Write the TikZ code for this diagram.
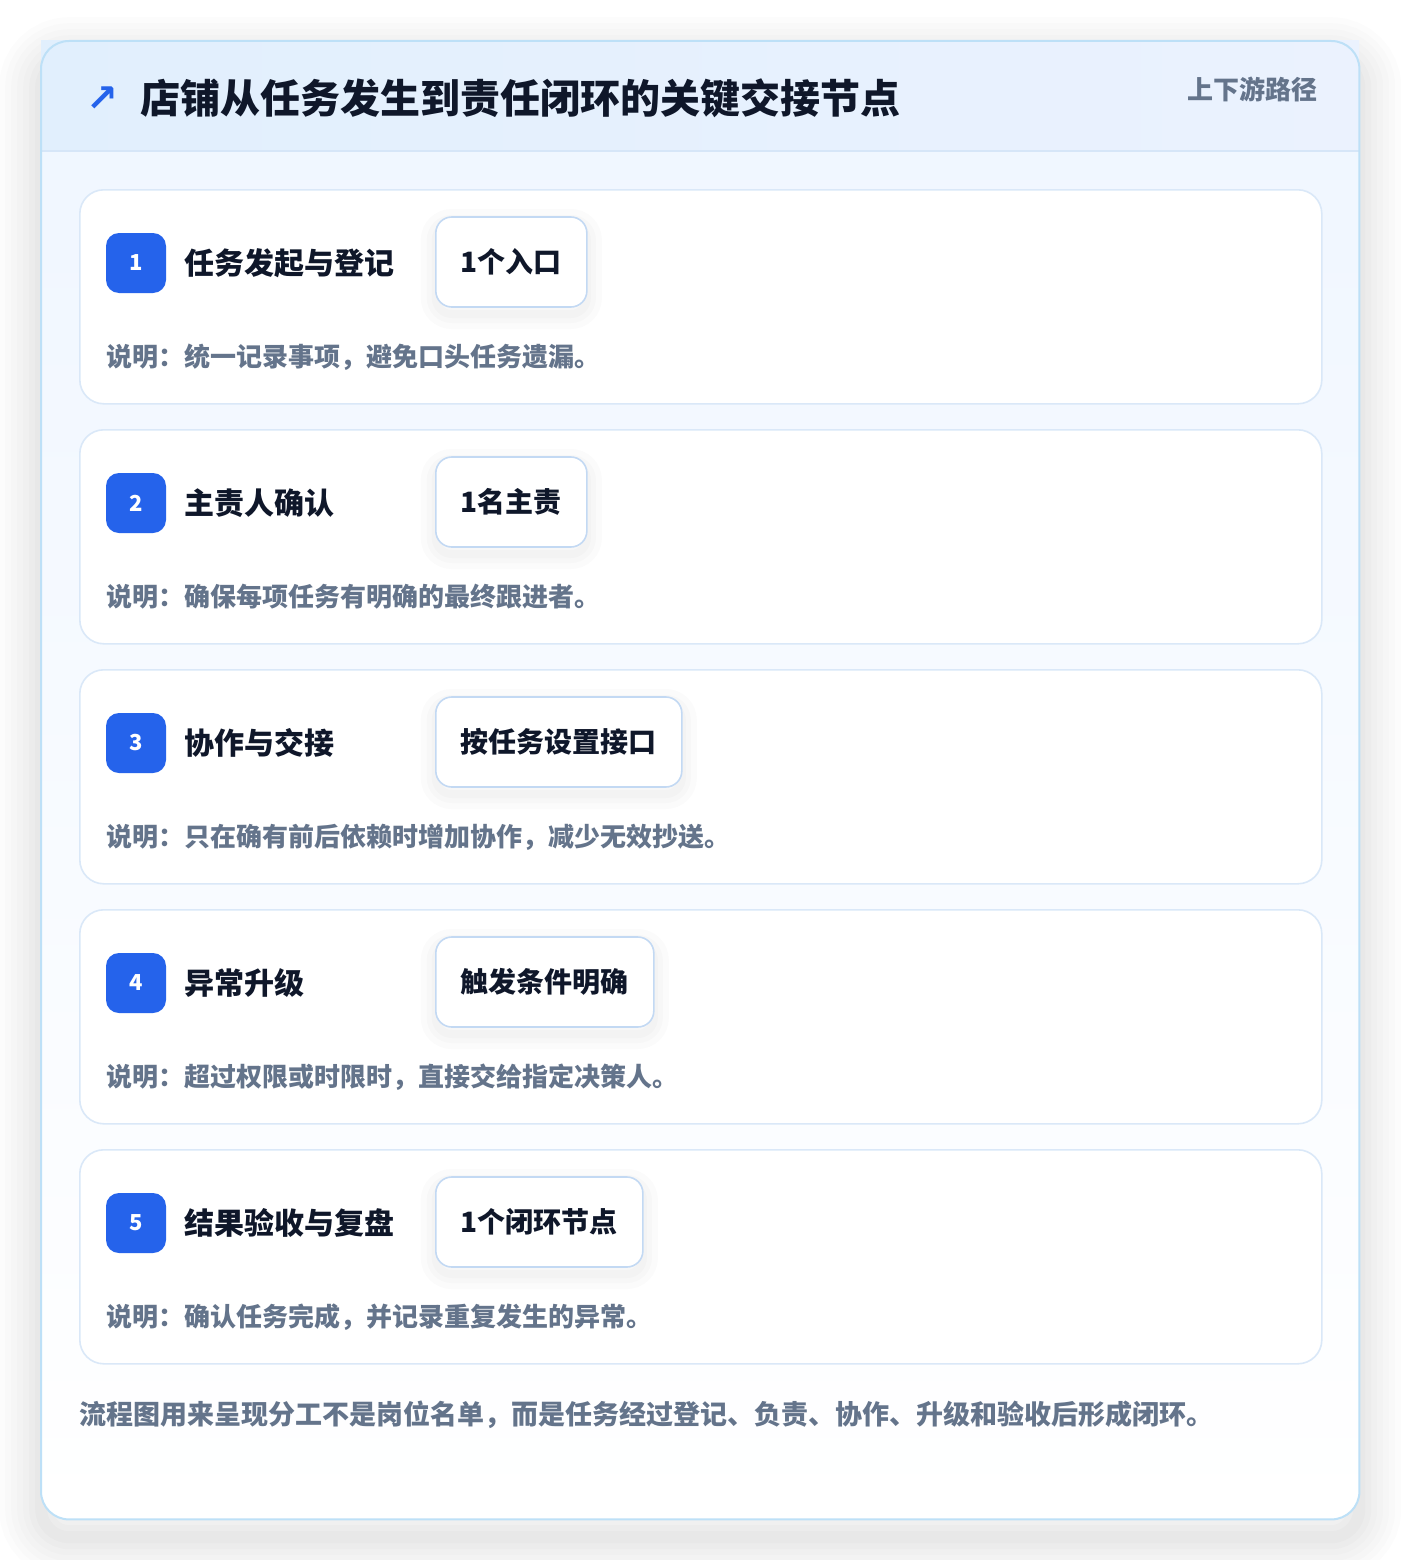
\documentclass[tikz,border=0pt]{standalone}
\usepackage{fontspec}
\setmainfont{Noto Sans CJK SC}
\newfontfamily\symfont{DejaVu Sans}
\usetikzlibrary{positioning}

\definecolor{paneledge}{HTML}{BDE0F7}
\definecolor{paneltop}{HTML}{EFF6FF}
\definecolor{headleft}{HTML}{E1EFFD}
\definecolor{headright}{HTML}{EBF2FE}
\definecolor{headrule}{HTML}{D6E6F8}
\definecolor{cardedge}{HTML}{DAE8F8}
\definecolor{tagedge}{HTML}{C3D9F3}
\definecolor{accent}{HTML}{2563EB}
\definecolor{ink}{HTML}{0F172A}
\definecolor{muted}{HTML}{64748B}

\tikzset{
  haze/.style 2 args={preaction={draw=black, draw opacity=#2, line width=#1,
    transform canvas={yshift=-18pt}}},
  panel/.style={anchor=north west, minimum width=1318pt, minimum height=1478pt,
    rounded corners=28pt, top color=paneltop, bottom color=white, inner sep=0pt,
    haze={84pt}{0.01}, haze={72pt}{0.01}, haze={60pt}{0.011}, haze={48pt}{0.012},
    haze={36pt}{0.013}, haze={24pt}{0.014}, haze={12pt}{0.015}},
  stepcard/.style={anchor=north west, draw=cardedge, line width=1.6pt, fill=white,
    rounded corners=24pt, minimum width=1242pt, minimum height=214pt, inner sep=0pt},
  badge/.style={fill=accent, text=white, rounded corners=13pt, minimum size=60pt,
    inner sep=0pt, font=\bfseries\fontsize{22}{26}\selectfont},
  steptitle/.style={text=ink, inner sep=0pt, font=\bfseries\fontsize{30}{36}\selectfont},
  tagbox/.style={anchor=west, draw=tagedge, line width=1.6pt, fill=white,
    rounded corners=16pt, minimum height=90pt, inner xsep=25pt, inner ysep=0pt,
    text=ink, font=\bfseries\fontsize{28}{34}\selectfont,
    preaction={draw=black, draw opacity=0.015, line width=30pt, transform canvas={yshift=-7pt}},
    preaction={draw=black, draw opacity=0.015, line width=18pt, transform canvas={yshift=-7pt}},
    preaction={draw=black, draw opacity=0.015, line width=8pt, transform canvas={yshift=-7pt}}},
  note/.style={anchor=west, inner sep=0pt, text=muted,
    font=\bfseries\fontsize{26}{32}\selectfont}
}

\begin{document}
\begin{tikzpicture}[x=1pt,y=-1pt]
\useasboundingbox (0,0) rectangle (1400,1560);
\fill[white] (0,0) rectangle (1400,1560);

% outer panel and header band
\node[panel] (panel) at (41,41) {};
\coordinate (headend) at (1359,151);
\fill[left color=headleft, right color=headright] (panel.north west) rectangle (headend);
\draw[headrule, line width=1.6pt] (panel.west |- headend) -- (headend);
\draw[paneledge, line width=2pt, rounded corners=28pt] (panel.north west) rectangle (panel.south east);

\node[text=accent, inner sep=0pt, font=\symfont\bfseries\fontsize{38}{40}\selectfont] (icon) at (102,99) {↗};
\node[anchor=west, inner sep=0pt, text=ink, font=\bfseries\fontsize{40}{46}\selectfont] (heading) at (140,98) {店铺从任务发生到责任闭环的关键交接节点};
\node[anchor=east, inner sep=0pt, text=muted, font=\bfseries\fontsize{26}{30}\selectfont] (route) at (1318,89) {上下游路径};

% step 1
\node[stepcard] (card1) at (79,189) {};
\node[badge] (num1) at (136,263) {1};
\node[steptitle, anchor=west, right=18pt of num1] (title1) {任务发起与登记};
\node[tagbox] (tag1) at (435,262) {1个入口};
\node[note] (note1) at (106,357) {说明：统一记录事项，避免口头任务遗漏。};

% step 2
\node[stepcard] (card2) at (79,429) {};
\node[badge] (num2) at (136,503) {2};
\node[steptitle, anchor=west, right=18pt of num2] (title2) {主责人确认};
\node[tagbox] (tag2) at (435,502) {1名主责};
\node[note] (note2) at (106,597) {说明：确保每项任务有明确的最终跟进者。};

% step 3
\node[stepcard] (card3) at (79,669) {};
\node[badge] (num3) at (136,743) {3};
\node[steptitle, anchor=west, right=18pt of num3] (title3) {协作与交接};
\node[tagbox] (tag3) at (435,742) {按任务设置接口};
\node[note] (note3) at (106,837) {说明：只在确有前后依赖时增加协作，减少无效抄送。};

% step 4
\node[stepcard] (card4) at (79,909) {};
\node[badge] (num4) at (136,983) {4};
\node[steptitle, anchor=west, right=18pt of num4] (title4) {异常升级};
\node[tagbox] (tag4) at (435,982) {触发条件明确};
\node[note] (note4) at (106,1077) {说明：超过权限或时限时，直接交给指定决策人。};

% step 5
\node[stepcard] (card5) at (79,1149) {};
\node[badge] (num5) at (136,1223) {5};
\node[steptitle, anchor=west, right=18pt of num5] (title5) {结果验收与复盘};
\node[tagbox] (tag5) at (435,1222) {1个闭环节点};
\node[note] (note5) at (106,1317) {说明：确认任务完成，并记录重复发生的异常。};

\node[note, font=\bfseries\fontsize{27}{32}\selectfont] (summary) at (79,1415) {流程图用来呈现分工不是岗位名单，而是任务经过登记、负责、协作、升级和验收后形成闭环。};
\end{tikzpicture}
\end{document}
